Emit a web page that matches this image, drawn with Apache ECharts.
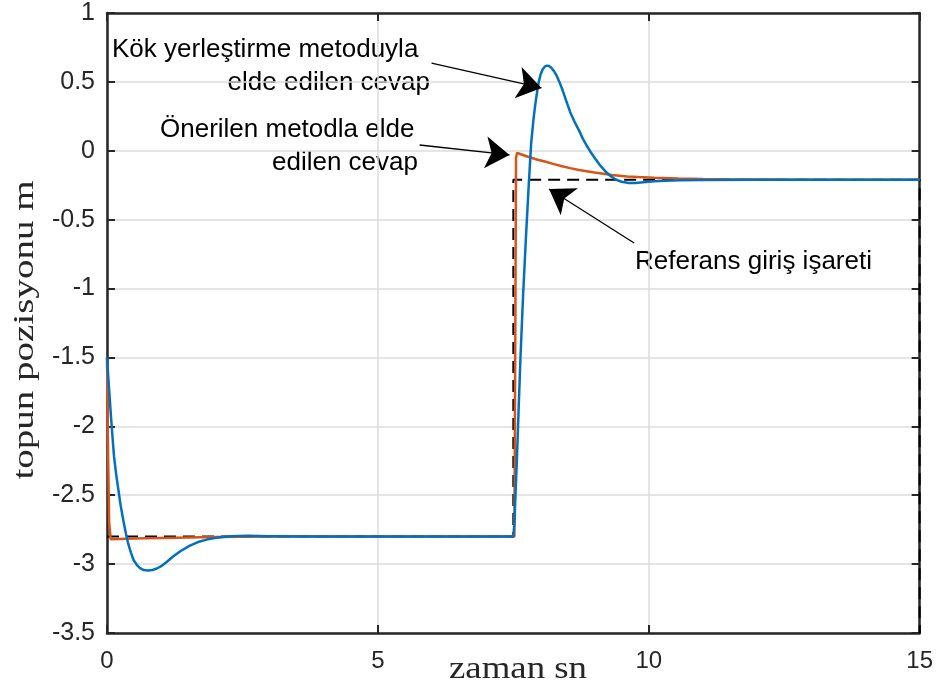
<!DOCTYPE html>
<html>
<head>
<meta charset="utf-8">
<script src="https://cdn.jsdelivr.net/npm/echarts@6/dist/echarts.min.js"></script>
<style>
  html, body { margin: 0; padding: 0; background: #fff; }
  #chart { width: 936px; height: 685px; }
</style>
</head>
<body>
<div id="chart"></div>
<script>
// Kök yerleştirme (blue) response
var kokT = [0, 0.035, 0.07, 0.1, 0.13, 0.17, 0.21, 0.25, 0.3, 0.35, 0.39, 0.44, 0.49,
  0.55, 0.61, 0.68, 0.76, 0.84, 0.92, 1.0, 1.1, 1.22, 1.36, 1.53, 1.68, 1.84,
  1.99, 2.14, 2.3, 2.6, 3.0, 4.0, 7.5,
  7.52, 7.54, 7.56, 7.58, 7.6, 7.63, 7.68, 7.73, 7.78, 7.83, 7.87, 7.9, 7.94,
  7.97, 8.0, 8.04, 8.08, 8.12, 8.16, 8.2, 8.25, 8.3, 8.35, 8.4, 8.47, 8.55,
  8.63, 8.71, 8.78, 8.85, 8.92, 9.0, 9.1, 9.2, 9.3, 9.4, 9.5, 9.63, 9.75,
  9.9, 10.1, 10.3, 10.6, 11, 12, 15];
var kokY = [-1.5, -1.71, -1.91, -2.07, -2.22, -2.35, -2.46, -2.57, -2.68, -2.78, -2.85, -2.915, -2.97,
  -3.005, -3.03, -3.043, -3.047, -3.043, -3.032, -3.015, -2.985, -2.945, -2.905, -2.866, -2.84, -2.822,
  -2.81, -2.803, -2.798, -2.795, -2.797, -2.8, -2.8,
  -2.7, -2.5, -2.3, -2.08, -1.85, -1.52, -1.05, -0.65, -0.28, 0.06, 0.22, 0.32, 0.43,
  0.5, 0.55, 0.59, 0.61, 0.618, 0.615, 0.603, 0.578, 0.545, 0.5, 0.45, 0.37, 0.28,
  0.21, 0.15, 0.09, 0.04, -0.005, -0.05, -0.105, -0.15, -0.185, -0.21, -0.225, -0.234, -0.233,
  -0.228, -0.222, -0.218, -0.214, -0.212, -0.21, -0.21];

// Önerilen metod (orange) response
var onerT = [0, 0.02, 0.04, 0.07, 0.5, 1.0, 2.0, 3.0, 7.52, 7.54, 7.55, 7.57,
  7.65, 7.8, 7.95, 8.1, 8.25, 8.4, 8.55, 8.71, 9.0, 9.32, 9.6, 9.8, 10.1,
  10.55, 11, 11.5, 12.5, 13.5, 15];
var onerY = [-1.5, -2.2, -2.7, -2.82, -2.815, -2.81, -2.803, -2.8, -2.8, -1.0, -0.05, -0.015,
  -0.027, -0.047, -0.065, -0.08, -0.097, -0.112, -0.126, -0.139, -0.158, -0.176, -0.186, -0.191, -0.196,
  -0.201, -0.205, -0.207, -0.209, -0.21, -0.21];

// Referans giriş işareti (dashed)
var refT = [0, 7.5, 7.5, 15, 15];
var refY = [-2.8, -2.8, -0.21, -0.21, -3.5];

// annotation arrows [fromT, fromY, toT, toY]
var arrows = [
  [5.99, 0.637, 8.02, 0.456],
  [5.77, 0.042, 7.43, -0.03],
  [9.73, -0.669, 8.16, -0.277]
];

function zip(xs, ys) {
  return xs.map(function (x, i) { return [x, ys[i]]; });
}

var axisColor = '#262626';
var tickFont = 'Liberation Sans, Arial, sans-serif';

var chart = echarts.init(document.getElementById('chart'));

function frameAxis(pos, isX) {
  return {
    type: 'value', position: pos,
    min: isX ? 0 : -3.5, max: isX ? 15 : 1, interval: isX ? 5 : 0.5,
    axisLine: { show: true, onZero: false, lineStyle: { color: axisColor, width: 2.5 } },
    axisTick: { show: true, inside: true, length: 8, lineStyle: { color: axisColor, width: 2 } },
    splitLine: { show: false },
    axisLabel: { show: false }
  };
}

var xMain = frameAxis('bottom', true);
xMain.splitLine = { show: true, lineStyle: { color: '#dcdcdc', width: 1.5 } };
xMain.axisLabel = { show: true, fontFamily: tickFont, fontSize: 24, color: axisColor, margin: 16 };

var yMain = frameAxis('left', false);
yMain.splitLine = { show: true, lineStyle: { color: '#dcdcdc', width: 1.5 } };
yMain.axisLabel = { show: true, fontFamily: tickFont, fontSize: 25, color: axisColor, margin: 12 };

var annFont = { fontFamily: tickFont, fontSize: 26, fill: '#000' };

function txt(x, y, s, align) {
  return {
    type: 'text', x: x, y: y, silent: true,
    style: Object.assign({ text: s, align: align, verticalAlign: 'middle' }, annFont)
  };
}

chart.setOption({
  animation: false,
  grid: { left: 107, right: 15, top: 13, bottom: 52 },
  xAxis: [xMain, frameAxis('top', true)],
  yAxis: [yMain, frameAxis('right', false)],
  series: [
    {
      name: 'Referans', type: 'line', data: zip(refT, refY), showSymbol: false,
      lineStyle: { color: '#000', width: 2, type: [12, 7] },
      markLine: {
        silent: true, symbol: ['none', 'arrow'], symbolSize: 24,
        label: { show: false },
        lineStyle: { color: '#000', width: 1.3, type: 'solid' },
        data: arrows.map(function (a) {
          return [{ coord: [a[0], a[1]] }, { coord: [a[2], a[3]] }];
        })
      }
    },
    {
      name: 'Önerilen', type: 'line', data: zip(onerT, onerY), showSymbol: false,
      lineStyle: { color: '#D95319', width: 2.5 }
    },
    {
      name: 'Kök', type: 'line', data: zip(kokT, kokY), showSymbol: false,
      lineStyle: { color: '#0072BD', width: 2.5, join: 'round' }
    }
  ],
  graphic: [
    txt(112, 50, 'Kök yerleştirme metoduyla', 'left'),
    txt(430, 83, 'elde edilen cevap', 'right'),
    txt(160, 130, 'Önerilen metodla elde', 'left'),
    txt(418, 163, 'edilen cevap', 'right'),
    txt(635, 262, 'Referans giriş işareti', 'left'),
    {
      type: 'text', x: 518, y: 670, scaleX: 1.15, silent: true,
      style: { text: 'zaman sn', align: 'center', verticalAlign: 'middle',
        fontFamily: 'Liberation Serif, Times New Roman, serif', fontSize: 32, fill: axisColor }
    },
    {
      type: 'text', x: 25, y: 330, rotation: Math.PI / 2, scaleX: 1.3, silent: true,
      style: { text: 'topun pozisyonu m', align: 'center', verticalAlign: 'middle',
        fontFamily: 'Liberation Serif, Times New Roman, serif', fontSize: 30, fill: axisColor }
    }
  ]
});
</script>
</body>
</html>
